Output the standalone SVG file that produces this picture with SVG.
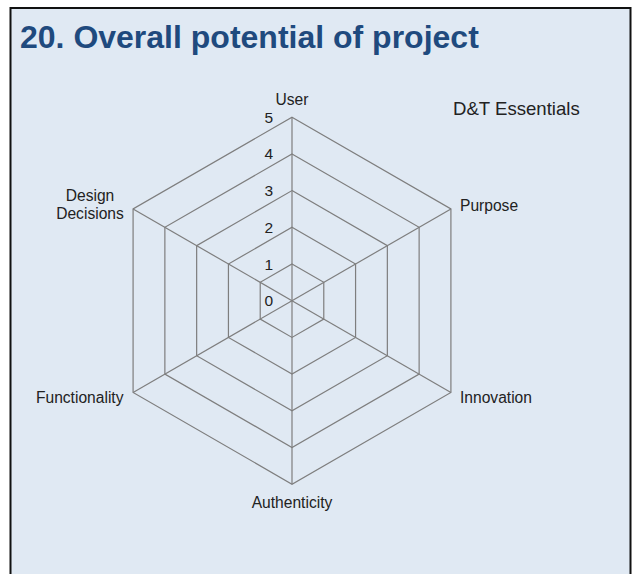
<svg xmlns="http://www.w3.org/2000/svg" width="635" height="574" viewBox="0 0 635 574">
  <style>
    .grid { fill: none; stroke: #7e7e7e; stroke-width: 1.2; }
    .lbl { font-family: "Liberation Sans", Arial, sans-serif; font-size: 15.6px; fill: #222; }
    .num { font-family: "Liberation Sans", Arial, sans-serif; font-size: 15.5px; fill: #222; text-anchor: end; }
    .title { font-family: "Liberation Sans", Arial, sans-serif; font-size: 32px; font-weight: bold; fill: #1f4a7e; }
  </style>
  <rect x="0" y="0" width="635" height="574" fill="#ffffff"/>
  <rect id="frame" x="10.5" y="8" width="620" height="580" fill="#e0e9f3" stroke="#111" stroke-width="2"/>
  <text id="title" class="title" x="20" y="47.5">20. Overall potential of project</text>
  <text id="legend" class="lbl" x="453" y="115" style="font-size:18.6px">D&amp;T Essentials</text>

  <g id="grid" transform="translate(292,300.7)">
    <polygon class="grid" points="0,-36.7 31.78,-18.35 31.78,18.35 0,36.7 -31.78,18.35 -31.78,-18.35"/>
    <polygon class="grid" points="0,-73.4 63.57,-36.7 63.57,36.7 0,73.4 -63.57,36.7 -63.57,-36.7"/>
    <polygon class="grid" points="0,-110.1 95.35,-55.05 95.35,55.05 0,110.1 -95.35,55.05 -95.35,-55.05"/>
    <polygon class="grid" points="0,-146.8 127.13,-73.4 127.13,73.4 0,146.8 -127.13,73.4 -127.13,-73.4"/>
    <polygon class="grid" points="0,-183.5 158.91,-91.75 158.91,91.75 0,183.5 -158.91,91.75 -158.91,-91.75"/>
    <g id="spokes">
      <line class="grid" x1="0" y1="0" x2="0" y2="-183.5"/>
      <line class="grid" x1="0" y1="0" x2="158.91" y2="-91.75"/>
      <line class="grid" x1="0" y1="0" x2="158.91" y2="91.75"/>
      <line class="grid" x1="0" y1="0" x2="0" y2="183.5"/>
      <line class="grid" x1="0" y1="0" x2="-158.91" y2="91.75"/>
      <line class="grid" x1="0" y1="0" x2="-158.91" y2="-91.75"/>
    </g>
  </g>

  <g id="scale">
    <text class="num" x="273" y="306.2">0</text>
    <text class="num" x="273" y="269.5">1</text>
    <text class="num" x="273" y="232.8">2</text>
    <text class="num" x="273" y="196.1">3</text>
    <text class="num" x="273" y="159.4">4</text>
    <text class="num" x="273" y="122.7">5</text>
  </g>

  <g id="axis-labels">
    <text id="user" class="lbl" x="292" y="104.5" text-anchor="middle">User</text>
    <text id="purpose" class="lbl" x="460" y="211">Purpose</text>
    <text id="innovation" class="lbl" x="460" y="403">Innovation</text>
    <text id="authenticity" class="lbl" x="292" y="508" text-anchor="middle">Authenticity</text>
    <text id="functionality" class="lbl" x="123.5" y="402.5" text-anchor="end">Functionality</text>
    <text id="design" class="lbl" x="90" y="200.7" text-anchor="middle">Design</text>
    <text id="decisions" class="lbl" x="90" y="219" text-anchor="middle">Decisions</text>
  </g>
</svg>
